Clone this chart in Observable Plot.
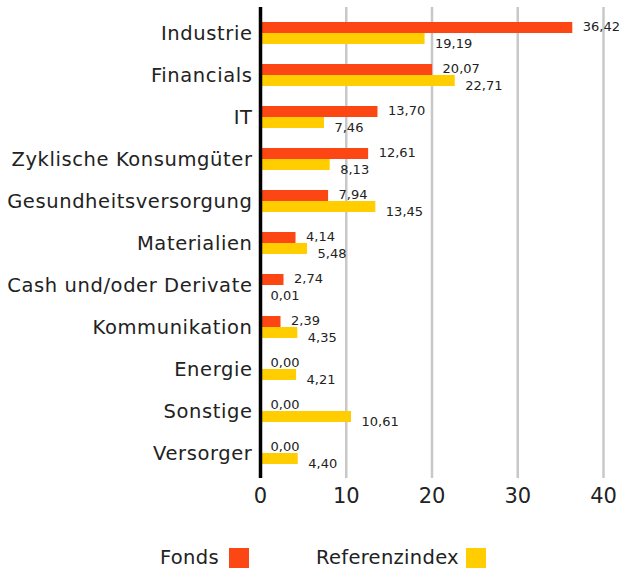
<!DOCTYPE html>
<html>
<head>
<meta charset="utf-8">
<script src="https://cdn.jsdelivr.net/npm/d3@7"></script>
<script src="https://cdn.jsdelivr.net/npm/@observablehq/plot@0.6"></script>
<style>
  body { margin: 0; background: #fff; font-family: "DejaVu Sans", sans-serif; }
  #wrap { position: relative; width: 620px; height: 572px; }
  #legend { position: absolute; left: 0; top: 0; width: 620px; height: 572px; pointer-events: none; font-size: 19.5px; color: #222; letter-spacing: 0.3px; }
  #legend .lbl { position: absolute; top: 546px; line-height: 24px; }
  #legend .sw { position: absolute; top: 548px; width: 20px; height: 20px; }
  g[aria-label="y-axis tick label"] text { letter-spacing: 0.6px; }
</style>
</head>
<body>
<div id="wrap"><div id="chart"></div><div id="legend"></div></div>
<script>
const categories = ["Industrie", "Financials", "IT", "Zyklische Konsumgüter", "Gesundheitsversorgung", "Materialien", "Cash und/oder Derivate", "Kommunikation", "Energie", "Sonstige", "Versorger"];
const fonds = [36.42, 20.07, 13.70, 12.61, 7.94, 4.14, 2.74, 2.39, 0.00, 0.00, 0.00];
const referenz = [19.19, 22.71, 7.46, 8.13, 13.45, 5.48, 0.01, 4.35, 4.21, 10.61, 4.40];
const xTicks = [0, 10, 20, 30, 40];
const seriesNames = ["Fonds", "Referenzindex"];
const colors = ["#fc4614", "#ffcd00"];

const fondsData = categories.map((c, i) => ({cat: c, value: fonds[i]}));
const refData = categories.map((c, i) => ({cat: c, value: referenz[i]}));
const fmt = v => d3.format(".2f")(v).replace(".", ",");

const chart = Plot.plot({
  width: 620,
  height: 520,
  marginLeft: 260,
  marginRight: 17,
  marginTop: 10,
  marginBottom: 44,
  style: {fontFamily: "'DejaVu Sans', sans-serif", color: "#222"},
  x: {domain: [0, 40]},
  y: {domain: categories, paddingInner: 0.48, paddingOuter: 0.235},
  marks: [
    Plot.ruleX(xTicks.filter(d => d > 0), {stroke: "#c8c8c8", strokeWidth: 2.5, insetTop: -3, insetBottom: -2}),
    Plot.barX(fondsData, {x: "value", y: "cat", fill: colors[0], insetBottom: 11, insetTop: 0}),
    Plot.barX(refData, {x: "value", y: "cat", fill: colors[1], insetTop: 11, insetBottom: 0}),
    Plot.ruleX([0], {stroke: "#000", strokeWidth: 3.5, insetTop: -3, insetBottom: -2}),
    Plot.text(fondsData, {x: "value", y: "cat", text: d => fmt(d.value), textAnchor: "start", dx: 10, dy: -7, fontSize: 13, fill: "#222"}),
    Plot.text(refData, {x: "value", y: "cat", text: d => fmt(d.value), textAnchor: "start", dx: 10, dy: 10, fontSize: 13, fill: "#222"}),
    Plot.axisY({tickSize: 0, tickPadding: 8, fontSize: 19.5, label: null}),
    Plot.axisX({ticks: xTicks, tickSize: 0, tickPadding: 12, fontSize: 21, label: null, tickFormat: d => String(d)})
  ]
});
document.getElementById("chart").appendChild(chart);

const legend = document.getElementById("legend");
const legendTextLeft = [160, 316];
const legendSwatchLeft = [229, 466];
seriesNames.forEach((name, i) => {
  const label = document.createElement("span");
  label.className = "lbl";
  label.style.left = legendTextLeft[i] + "px";
  label.textContent = name;
  const sw = document.createElement("span");
  sw.className = "sw";
  sw.style.left = legendSwatchLeft[i] + "px";
  sw.style.background = colors[i];
  legend.appendChild(label);
  legend.appendChild(sw);
});
</script>
</body>
</html>
